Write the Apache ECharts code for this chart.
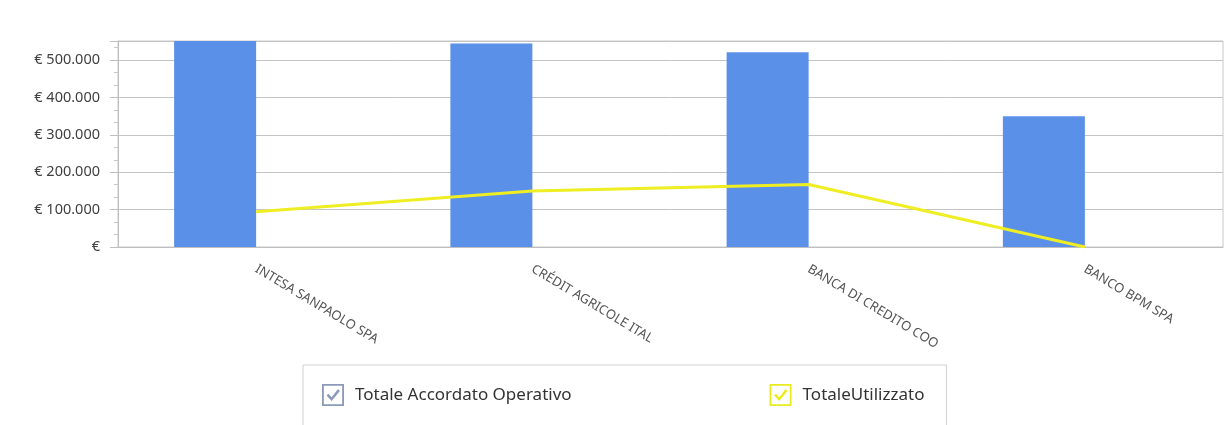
<!DOCTYPE html>
<html>
<head>
<meta charset="utf-8">
<script src="https://cdn.jsdelivr.net/npm/echarts@6/dist/echarts.min.js"></script>
<style>
html,body{margin:0;padding:0;background:#fff;}
#chart{width:1228px;height:425px;}
</style>
</head>
<body>
<div id="chart"></div>
<script>
const categories = ['INTESA SANPAOLO SPA', 'CRÉDIT AGRICOLE ITAL', 'BANCA DI CREDITO COO', 'BANCO BPM SPA'];
const accordato = [551000, 544000, 521000, 350000];
const utilizzato = [94000, 150000, 167000, 0];
const seriesNames = ['Totale Accordato Operativo', 'TotaleUtilizzato'];
const yTicks = [0, 100000, 200000, 300000, 400000, 500000];

function fmtEuro(v) {
  if (v === 0) return '€';
  if (yTicks.indexOf(v) < 0) return '';
  return '€ ' + String(v).replace(/\B(?=(\d{3})+(?!\d))/g, '.');
}

const checkIcon = 'path://M0,0H24V24H0Z M2,2V22H22V2Z M5,12.5L7,10.5L10.5,14.5L17.5,5.5L19.5,7.5L10.5,18.5Z';

const chart = echarts.init(document.getElementById('chart'), null, {renderer: 'canvas'});
chart.setOption({
  animation: false,
  backgroundColor: '#ffffff',
  textStyle: {fontFamily: 'Noto Sans'},
  grid: {left: 118, right: 5, top: 41, bottom: 178, show: true, borderColor: '#c8c8c8', borderWidth: 1, containLabel: false},
  legend: {
    left: 303, top: 365,
    orient: 'horizontal',
    borderColor: '#d0d0d0', borderWidth: 1,
    padding: [19, 22, 20, 19],
    itemWidth: 22, itemHeight: 22,
    itemGap: 198,
    textStyle: {fontSize: 17, color: '#333333', fontFamily: 'Noto Sans', padding: [0, 0, 0, 6]},
    data: [
      {name: seriesNames[0], icon: checkIcon, itemStyle: {color: '#8a9ab8'}},
      {name: seriesNames[1], icon: checkIcon, itemStyle: {color: '#e8ec1e'}}
    ]
  },
  xAxis: {
    type: 'category',
    data: categories,
    boundaryGap: true,
    axisLine: {lineStyle: {color: '#bfbfbf'}},
    axisTick: {alignWithLabel: true, length: 6, lineStyle: {color: '#bfbfbf'}},
    axisLabel: {rotate: -31, margin: 21, fontSize: 13, color: '#555555', fontFamily: 'Noto Sans'},
    splitLine: {show: false}
  },
  yAxis: {
    type: 'value',
    min: 0, max: 551000, interval: 100000,
    axisLine: {show: true, lineStyle: {color: '#bfbfbf'}},
    axisTick: {show: true, length: 8, lineStyle: {color: '#bfbfbf'}},
    minorTick: {show: true, splitNumber: 3, length: 4, lineStyle: {color: '#c8c8c8'}},
    axisLabel: {formatter: fmtEuro, fontSize: 14.5, color: '#404040', margin: 18, fontFamily: 'Noto Sans'},
    splitLine: {show: true, lineStyle: {color: '#c4c4c4', width: 1}}
  },
  series: [
    {
      name: seriesNames[0], type: 'bar', data: accordato,
      barWidth: 82, barGap: '0%',
      itemStyle: {color: '#5b90e8'}
    },
    {
      name: 'spacer', type: 'bar', data: categories.map(() => null),
      barWidth: 82, silent: true, itemStyle: {color: 'transparent'}
    },
    {
      name: seriesNames[1], type: 'line', data: utilizzato,
      symbol: 'none', z: 5,
      lineStyle: {color: '#eeee22', width: 3},
      itemStyle: {color: '#eeee22'}
    }
  ]
});
</script>
</body>
</html>
